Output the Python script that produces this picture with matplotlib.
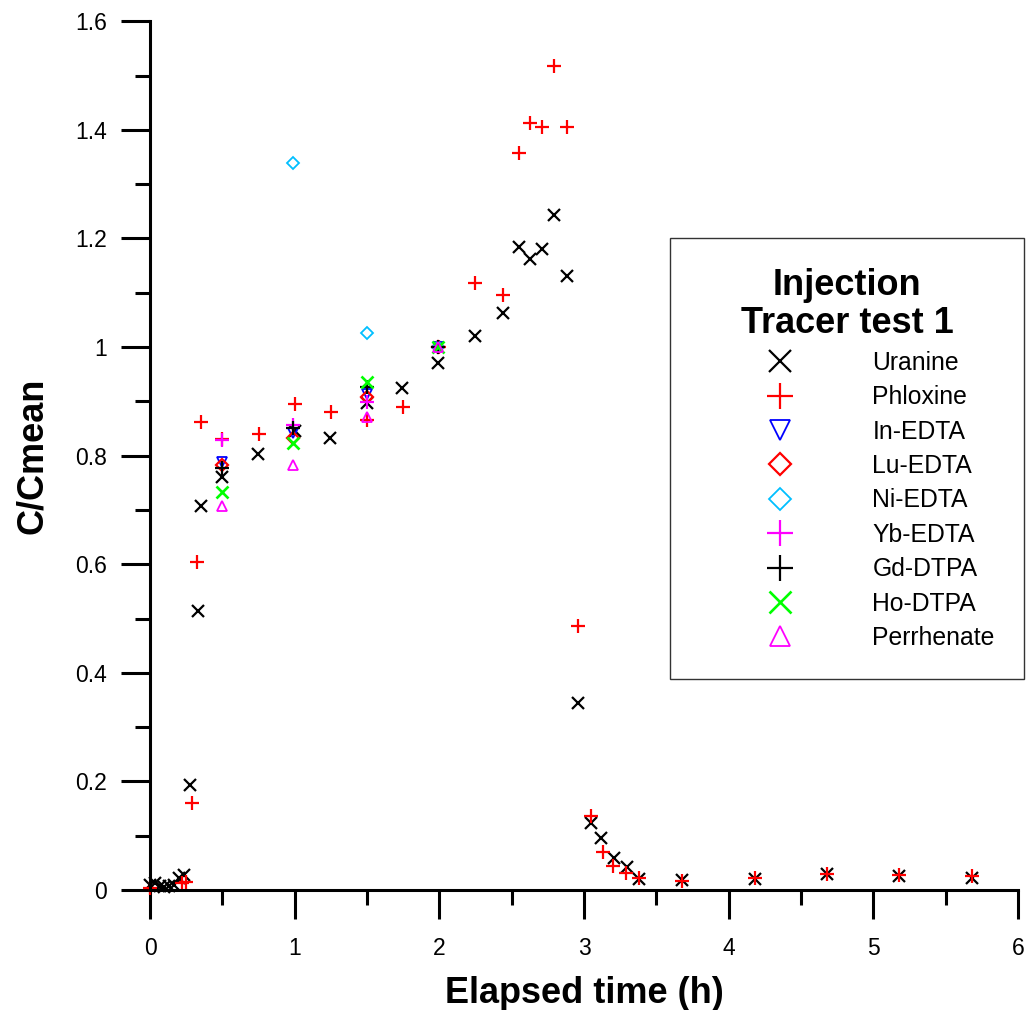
import matplotlib
matplotlib.use("Agg")
import matplotlib.pyplot as plt
from matplotlib.ticker import MultipleLocator

# Uranine
ura_t = [0.0, 0.033, 0.067, 0.1, 0.133, 0.167, 0.2, 0.233, 0.276, 0.33, 0.35, 0.5, 0.747,
         1.0, 1.244, 1.5, 1.74, 1.99, 2.247, 2.44, 2.55, 2.63, 2.71, 2.79, 2.88, 2.96,
         3.05, 3.12, 3.21, 3.30, 3.38, 3.68, 4.18, 4.68, 5.18, 5.68]
ura_c = [0.01, 0.012, 0.008, 0.006, 0.008, 0.01, 0.022, 0.028, 0.193, 0.514, 0.707, 0.76, 0.803,
         0.845, 0.832, 0.897, 0.924, 0.971, 1.020, 1.063, 1.184, 1.162, 1.18, 1.243, 1.131, 0.344,
         0.123, 0.096, 0.059, 0.042, 0.020, 0.018, 0.02, 0.03, 0.026, 0.022]

# Phloxine
phl_t = [0.0, 0.22, 0.25, 0.29, 0.325, 0.35, 0.5, 0.75, 1.0, 1.25, 1.5, 1.75, 2.0, 2.25,
         2.44, 2.55, 2.63, 2.71, 2.79, 2.88, 2.96, 3.05, 3.13, 3.20, 3.29, 3.38,
         3.68, 4.18, 4.68, 5.18, 5.68]
phl_c = [0.003, 0.012, 0.015, 0.160, 0.604, 0.862, 0.83, 0.84, 0.895, 0.88, 0.865, 0.889, 1.0, 1.118,
         1.096, 1.357, 1.412, 1.405, 1.517, 1.405, 0.486, 0.136, 0.07, 0.044, 0.031, 0.022,
         0.016, 0.022, 0.03, 0.028, 0.025]

# Tracers sampled at 0.5, 1, 1.5, 2 h
tr_t = [0.5, 0.99, 1.5, 1.99]
in_c = [0.788, 0.842, 0.913, 1.0]
lu_c = [0.782, 0.833, 0.908, 1.0]
ni_t = [0.99, 1.5, 1.99]
ni_c = [1.339, 1.026, 1.0]
yb_c = [0.829, 0.857, 0.899, 1.0]
gd_c = [0.777, 0.851, 0.926, 1.0]
ho_c = [0.733, 0.823, 0.936, 1.0]
re_c = [0.707, 0.783, 0.871, 1.0]

plt.rcParams['font.family'] = ['Liberation Sans', 'DejaVu Sans']

fig = plt.figure(figsize=(10.26, 10.10), dpi=100)
ax = fig.add_axes([0.1462, 0.1188, 0.846, 0.8602])

ms = 8.5
mw = 1.6
ax.plot(ura_t, ura_c, 'x', color='black', ms=ms, mew=mw, ls='none', label='Uranine', clip_on=False)
ax.plot(phl_t, phl_c, '+', color='red', ms=ms + 1, mew=mw, ls='none', label='Phloxine', clip_on=False)
ax.plot(tr_t, in_c, 'v', color='blue', mfc='none', ms=ms - 1, mew=mw - 0.3, ls='none', label='In-EDTA')
ax.plot(tr_t, lu_c, 'D', color='red', mfc='none', ms=ms - 2.5, mew=mw, ls='none', label='Lu-EDTA')
ax.plot(ni_t, ni_c, 'D', color='#00BFFF', mfc='none', ms=ms - 2.5, mew=mw - 0.3, ls='none', label='Ni-EDTA')
ax.plot(tr_t, yb_c, '+', color='#FF00FF', ms=ms + 1, mew=mw, ls='none', label='Yb-EDTA')
ax.plot(tr_t, gd_c, '+', color='black', ms=ms + 1, mew=mw, ls='none', label='Gd-DTPA')
ax.plot(tr_t, ho_c, 'x', color='#00FF00', ms=ms, mew=mw + 0.3, ls='none', label='Ho-DTPA')
ax.plot(tr_t, re_c, '^', color='#FF00FF', mfc='none', ms=ms - 1, mew=mw - 0.3, ls='none', label='Perrhenate')

ax.set_xlim(0, 6)
ax.set_ylim(0, 1.6)
ax.xaxis.set_major_locator(MultipleLocator(1))
ax.xaxis.set_minor_locator(MultipleLocator(0.5))
ax.yaxis.set_minor_locator(MultipleLocator(0.1))
ax.set_yticks([0, 0.2, 0.4, 0.6, 0.8, 1.0, 1.2, 1.4, 1.6])
ax.set_yticklabels(['0', '0.2', '0.4', '0.6', '0.8', '1', '1.2', '1.4', '1.6'])

for s in ['top', 'right']:
    ax.spines[s].set_visible(False)
for s in ['left', 'bottom']:
    ax.spines[s].set_linewidth(2.2)

ax.tick_params(which='major', direction='out', length=21, width=2.2, labelsize=16.5, pad=10)
ax.tick_params(which='minor', direction='out', length=11, width=2.2)
ax.tick_params(axis='x', which='major', pad=13)

ax.set_xlabel('Elapsed time (h)', fontsize=26, fontweight='bold', labelpad=11)
ax.set_ylabel('C/Cmean', fontsize=26, fontweight='bold', labelpad=18)

leg = ax.legend(title='Injection\nTracer test 1', loc='upper left', bbox_to_anchor=(0.599, 0.75),
                borderaxespad=0, fontsize=17.8, markerscale=1.9, numpoints=1,
                handlelength=6.5, handletextpad=0.5, borderpad=1.19, labelspacing=0.42,
                fancybox=False, edgecolor='#333333', framealpha=1)
leg.get_title().set_fontsize(26)
leg.get_title().set_fontweight('bold')
leg.get_title().set_linespacing(1.1)
leg.get_title().set_multialignment('center')
leg.get_frame().set_linewidth(1.0)

fig.savefig('out.png', dpi=100)
